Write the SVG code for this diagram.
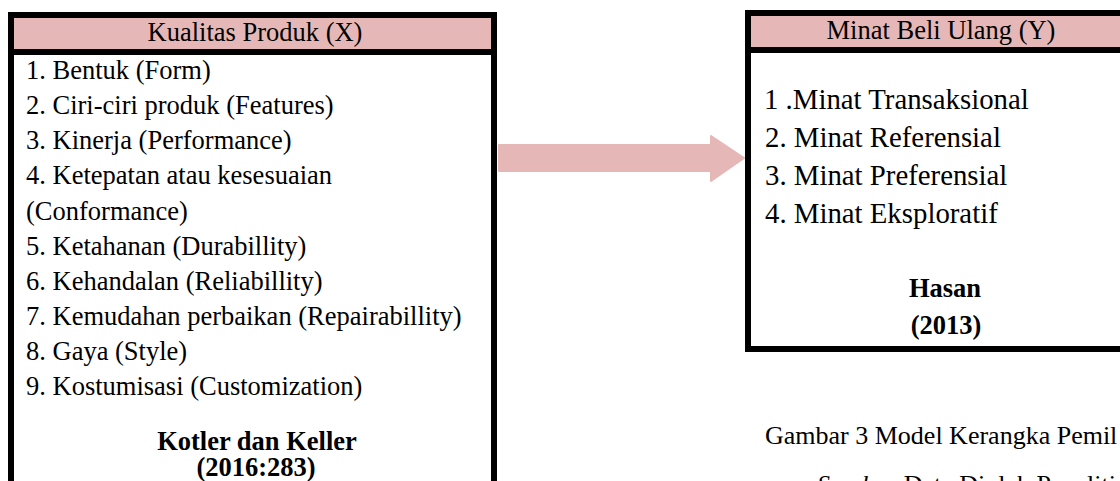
<svg xmlns="http://www.w3.org/2000/svg" width="1120" height="481" viewBox="0 0 1120 481">
<style>
.box{fill:#ffffff;stroke:#000000;stroke-width:6}
.head{fill:#e5b8b7}
.div{stroke:#000000;stroke-width:6}
.t{font-family:"Liberation Serif","Times New Roman",serif;fill:#000000}
.l{font-size:26.5px}
.r{font-size:28.8px}
.h{font-size:26.5px}
.b{font-weight:bold;font-size:26.5px}
.c{font-size:26px}
.arrow{fill:#e5b8b7;stroke:#e5b8b7;stroke-width:2;stroke-linejoin:round}
</style>
<rect width="1120" height="481" fill="#ffffff"/>
<g id="connectors">
<path class="arrow" d="M499,145 L711,145 L711,136 L744,158 L711,181 L711,171 L499,171 Z"/>
</g>
<g id="node-x">
<rect class="box" x="11" y="15" width="483" height="480"/>
<rect class="head" x="14" y="18" width="477" height="31"/>
<line class="div" x1="11" y1="52" x2="494" y2="52"/>
<text class="t h" x="255" y="41" text-anchor="middle">Kualitas Produk (X)</text>
<text class="t l" x="26" y="79">1. Bentuk (Form)</text>
<text class="t l" x="26" y="114">2. Ciri-ciri produk (Features)</text>
<text class="t l" x="26" y="149">3. Kinerja (Performance)</text>
<text class="t l" x="26" y="184">4. Ketepatan atau kesesuaian</text>
<text class="t l" x="26" y="219.5">(Conformance)</text>
<text class="t l" x="26" y="254.5">5. Ketahanan (Durabillity)</text>
<text class="t l" x="26" y="289.5">6. Kehandalan (Reliabillity)</text>
<text class="t l" x="26" y="324.5">7. Kemudahan perbaikan (Repairabillity)</text>
<text class="t l" x="26" y="359.5">8. Gaya (Style)</text>
<text class="t l" x="26" y="395">9. Kostumisasi (Customization)</text>
<text class="t b" x="257" y="450" text-anchor="middle">Kotler dan Keller</text>
<text class="t b" x="256" y="476" text-anchor="middle">(2016:283)</text>
</g>
<g id="node-y">
<rect class="box" x="748" y="13" width="400" height="336"/>
<rect class="head" x="751" y="16" width="380" height="31"/>
<line class="div" x1="748" y1="50" x2="1130" y2="50"/>
<text class="t h" x="941" y="39" text-anchor="middle">Minat Beli Ulang (Y)</text>
<text class="t r" x="764" y="109">1 .Minat Transaksional</text>
<text class="t r" x="765" y="147">2. Minat Referensial</text>
<text class="t r" x="765" y="185">3. Minat Preferensial</text>
<text class="t r" x="765" y="223">4. Minat Eksploratif</text>
<text class="t b" x="945" y="297" text-anchor="middle">Hasan</text>
<text class="t b" x="946" y="334" text-anchor="middle">(2013)</text>
</g>
<g id="caption">
<text class="t c" x="765" y="444">Gambar 3 Model Kerangka Pemil</text>
<text class="t c" x="817" y="493"><tspan font-style="italic">Sumber</tspan>:Data Diolah Peneliti</text>
</g>
</svg>
